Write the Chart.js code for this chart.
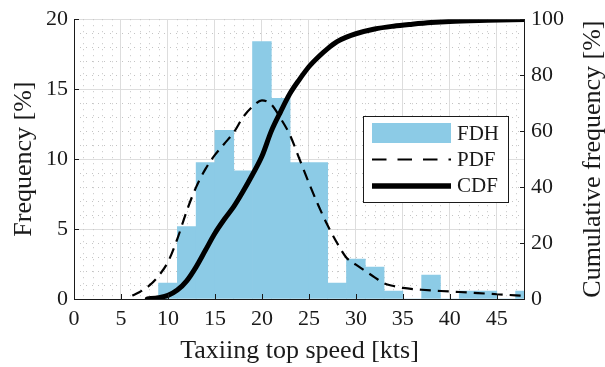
<!DOCTYPE html>
<html><head><meta charset="utf-8">
<script src="https://cdn.jsdelivr.net/npm/chart.js@4/dist/chart.umd.min.js"></script>
<style>html,body{margin:0;padding:0;background:#fff}#wrap{width:605px;height:367px;position:relative}</style>
</head><body><div id="wrap"><canvas id="c" width="605" height="367"></canvas></div>
<script>
// ---- data ----
const binCenters = [10,12,14,16,18,20,22,24,26,28,30,32,34,36,38,40,42,44,46,48];
const fdhValues  = [1.14,5.17,9.75,12.05,9.17,18.4,14.35,9.75,9.75,1.14,2.86,2.29,0.57,0,1.71,0,0.57,0.57,0,0.57];
const pdfX = [6.2,7,8,9,10,11,12,13,14,15,16,17,18,19,20,21,22,23,24,25,26,27,28,29,30,31,32,33,34,35,37,39,41,43,45,47,48];
const pdfY = [0.25,0.5,0.95,1.65,2.65,4.3,6.3,8.0,9.3,10.3,11.1,11.9,13.0,13.75,14.2,13.9,12.9,11.7,10.0,8.3,6.7,5.25,4.0,2.95,2.45,2.0,1.55,1.12,0.93,0.79,0.66,0.57,0.5,0.42,0.34,0.26,0.22];
const cdfX = [7.8,9,10,11,12,13,14,15,16,17,18,19,20,21,22,23,24,25,26,27,28,29,30,32,34,36,38,40,44,48];
const cdfY = [0,0.5,1.3,3.2,6.5,11.5,17.5,23.5,28.5,33,38.5,44.5,51,60,67,73.5,78.5,83,86.5,89.5,92,93.6,94.8,96.5,97.5,98.2,98.8,99.2,99.6,99.9];
const xTicks  = [0,5,10,15,20,25,30,35,40,45];
const yTicks  = [0,5,10,15,20];
const y2Ticks = [0,20,40,60,80,100];
const seriesNames = ['FDH','PDF','CDF'];
const axisTitles = {x:'Taxiing top speed [kts]', y:'Frequency [%]', y2:'Cumulative frequency [%]'};

// ---- style ----
const BLUE = '#8ccbe6';
const INK = '#1a1a1a';
const SERIF = '"Liberation Serif","Times New Roman",serif';

const decor = {
  id: 'decor',
  beforeDatasetsDraw(chart) {
    const {ctx, chartArea: a, scales: {x, y}} = chart;
    ctx.save();
    ctx.strokeStyle = '#c4c4c4'; ctx.lineWidth = 1; ctx.setLineDash([1,5]);
    ctx.beginPath();
    for (let v = 1; v < 48; v++) {
      if (v % 5 === 0) continue;
      const px = Math.round(x.getPixelForValue(v)) + 0.5;
      ctx.moveTo(px, a.top); ctx.lineTo(px, a.bottom);
    }
    for (let v = 1; v < 20; v++) {
      if (v % 5 === 0) continue;
      const py = Math.round(y.getPixelForValue(v)) + 0.5;
      ctx.moveTo(a.left, py); ctx.lineTo(a.right, py);
    }
    ctx.stroke();
    ctx.restore();
  },
  afterDatasetsDraw(chart) {
    const {ctx, chartArea: a, scales: {x, y, y2}} = chart;
    ctx.save();
    // axes lines
    ctx.strokeStyle = INK; ctx.lineWidth = 1; ctx.setLineDash([]);
    ctx.beginPath();
    ctx.moveTo(a.left + 0.5, a.top); ctx.lineTo(a.left + 0.5, a.bottom + 0.5);
    ctx.lineTo(a.right - 0.5, a.bottom + 0.5); ctx.lineTo(a.right - 0.5, a.top);
    // inward ticks
    const tl = 5;
    xTicks.forEach(v => { const px = Math.round(x.getPixelForValue(v)) + 0.5; ctx.moveTo(px, a.bottom); ctx.lineTo(px, a.bottom - tl); });
    yTicks.forEach(v => { const py = Math.round(y.getPixelForValue(v)) + 0.5; ctx.moveTo(a.left, py); ctx.lineTo(a.left + tl, py); });
    y2Ticks.forEach(v => { const py = Math.round(y2.getPixelForValue(v)) + 0.5; ctx.moveTo(a.right, py); ctx.lineTo(a.right - tl, py); });
    ctx.stroke();

    // right axis title (reads bottom to top)
    ctx.fillStyle = INK;
    ctx.font = '26px ' + SERIF;
    ctx.textAlign = 'center'; ctx.textBaseline = 'middle';
    ctx.save();
    ctx.translate(593, (a.top + a.bottom) / 2);
    ctx.rotate(-Math.PI / 2);
    ctx.fillText(axisTitles.y2, 0, 0);
    ctx.restore();

    // legend
    const L = 363.5, T = 116.5, W = 145, H = 86;
    ctx.fillStyle = '#ffffff';
    ctx.fillRect(L, T, W, H);
    ctx.strokeStyle = INK; ctx.lineWidth = 1;
    ctx.strokeRect(L, T, W, H);
    const sx0 = 372, sx1 = 451, tx = 457;
    ctx.fillStyle = BLUE;
    ctx.fillRect(sx0, 123, sx1 - sx0, 20);
    ctx.strokeStyle = '#000'; ctx.lineWidth = 2; ctx.setLineDash([14.5, 11]);
    ctx.beginPath(); ctx.moveTo(sx0, 159.5); ctx.lineTo(sx1, 159.5); ctx.stroke();
    ctx.setLineDash([]); ctx.lineWidth = 5.5;
    ctx.beginPath(); ctx.moveTo(sx0, 186); ctx.lineTo(sx1, 186); ctx.stroke();
    ctx.fillStyle = INK; ctx.font = '21px ' + SERIF;
    ctx.textAlign = 'left'; ctx.textBaseline = 'middle';
    ctx.fillText(seriesNames[0], tx, 134);
    ctx.fillText(seriesNames[1], tx, 160);
    ctx.fillText(seriesNames[2], tx, 186);
    ctx.restore();
  }
};

const tickFont = {family: SERIF, size: 22};
const titleFont = {family: SERIF, size: 26, lineHeight: 1};

new Chart(document.getElementById('c'), {
  type: 'bar',
  data: {
    datasets: [
      {
        type: 'line', label: seriesNames[2], order: 0,
        data: cdfX.map((v, i) => ({x: v, y: cdfY[i]})),
        xAxisID: 'x', yAxisID: 'y2',
        borderColor: '#000', borderWidth: 5, pointRadius: 0, fill: false,
        tension: 0.4, cubicInterpolationMode: 'monotone', borderCapStyle: 'round'
      },
      {
        type: 'line', label: seriesNames[1], order: 1,
        data: pdfX.map((v, i) => ({x: v, y: pdfY[i]})),
        xAxisID: 'x', yAxisID: 'y',
        borderColor: '#000', borderWidth: 2.2, borderDash: [11, 7], pointRadius: 0, fill: false,
        tension: 0.4, cubicInterpolationMode: 'monotone'
      },
      {
        type: 'bar', label: seriesNames[0], order: 2,
        data: binCenters.map((v, i) => ({x: v, y: fdhValues[i]})),
        xAxisID: 'x', yAxisID: 'y',
        backgroundColor: BLUE, borderWidth: 0,
        barPercentage: 1, categoryPercentage: 1, grouped: false
      }
    ]
  },
  options: {
    responsive: false, animation: false, devicePixelRatio: 1, events: [],
    layout: {padding: {top: 19, left: 0, right: 0, bottom: 0}},
    plugins: {legend: {display: false}, tooltip: {enabled: false}},
    scales: {
      x: {
        type: 'linear', position: 'bottom', min: 0, max: 48, offset: false,
        afterBuildTicks: s => { s.ticks = xTicks.map(v => ({value: v})); },
        afterFit: s => { s.height = 68; },
        ticks: {font: tickFont, color: INK, padding: 7, maxRotation: 0, autoSkip: false},
        grid: {color: '#dddddd', lineWidth: 1, drawTicks: false, offset: false},
        border: {display: false},
        title: {display: true, text: axisTitles.x, font: titleFont, color: INK, padding: {top: 0, bottom: 3}}
      },
      y: {
        type: 'linear', position: 'left', min: 0, max: 20,
        afterBuildTicks: s => { s.ticks = yTicks.map(v => ({value: v})); },
        afterFit: s => { s.width = 74; },
        ticks: {font: tickFont, color: INK, padding: 6},
        grid: {color: '#dddddd', lineWidth: 1, drawTicks: false},
        border: {display: false},
        title: {display: true, text: axisTitles.y, font: titleFont, color: INK, padding: {top: 11, bottom: 0}}
      },
      y2: {
        type: 'linear', position: 'right', min: 0, max: 100,
        afterBuildTicks: s => { s.ticks = y2Ticks.map(v => ({value: v})); },
        afterFit: s => { s.width = 80; },
        ticks: {font: tickFont, color: INK, padding: 6},
        grid: {display: false, drawTicks: false},
        border: {display: false}
      }
    }
  },
  plugins: [decor]
});
</script>
</body></html>
